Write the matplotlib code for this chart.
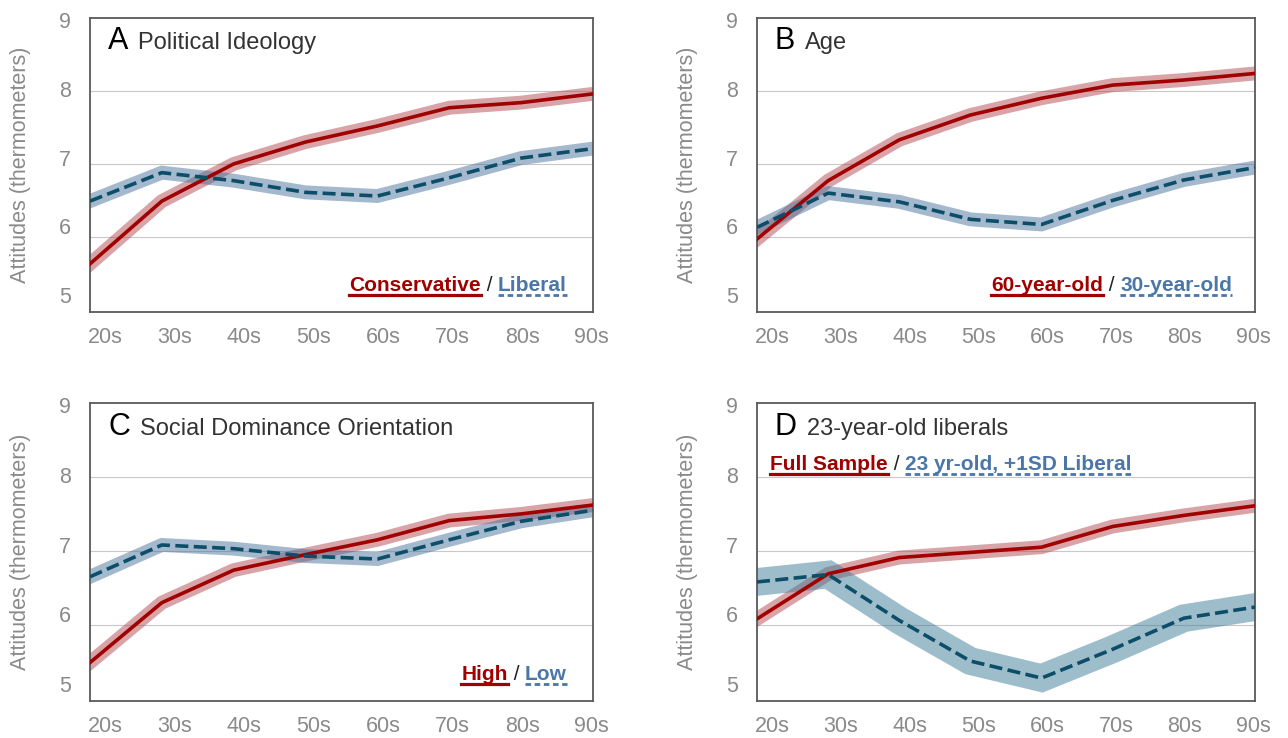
import numpy as np
import matplotlib
matplotlib.use('agg')
import matplotlib.pyplot as plt
from matplotlib.lines import Line2D

plt.rcParams['font.family'] = ['Liberation Sans', 'DejaVu Sans']

decades = ['20s', '30s', '40s', '50s', '60s', '70s', '80s', '90s']
ytick_labels = ['9', '8', '7', '6', '5']

# attitude means per decade
ideology_conservative = [5.63, 6.49, 7.00, 7.30, 7.52, 7.77, 7.84, 7.96]
ideology_liberal = [6.49, 6.88, 6.77, 6.61, 6.56, 6.81, 7.08, 7.21]
age_60 = [5.97, 6.77, 7.33, 7.67, 7.90, 8.08, 8.15, 8.24]
age_30 = [6.13, 6.60, 6.48, 6.24, 6.17, 6.50, 6.78, 6.95]
sdo_high = [5.49, 6.30, 6.74, 6.95, 7.15, 7.41, 7.50, 7.62]
sdo_low = [6.65, 7.08, 7.03, 6.93, 6.89, 7.15, 7.40, 7.55]
full_sample = [6.08, 6.69, 6.91, 6.98, 7.05, 7.33, 7.48, 7.61]
young_liberal = [6.58, 6.68, 6.06, 5.51, 5.28, 5.67, 6.09, 6.24]

RED = '#a00000'
RED_BAND = '#b34a52'
TEAL = '#0c4d68'
BLUE_BAND = '#4a749c'
BLUE_TXT = '#4a76a8'
GRAY = '#8a8a8a'

panels = [
    dict(letter='A', title='Political Ideology', red=ideology_conservative, blue=ideology_liberal,
         red_label='Conservative', blue_label='Liberal', rect=[90, 18, 503, 294],
         legend=(0.948, 0.071, 'right'), band_blue=10, band_blue_color=BLUE_BAND),
    dict(letter='B', title='Age', red=age_60, blue=age_30,
         red_label='60-year-old', blue_label='30-year-old', rect=[757, 18, 498, 294],
         legend=(0.954, 0.071, 'right'), band_blue=10, band_blue_color=BLUE_BAND),
    dict(letter='C', title='Social Dominance Orientation', red=sdo_high, blue=sdo_low,
         red_label='High', blue_label='Low', rect=[90, 403, 503, 298],
         legend=(0.948, 0.07, 'right'), band_blue=10, band_blue_color=BLUE_BAND),
    dict(letter='D', title='23-year-old liberals', red=full_sample, blue=young_liberal,
         red_label='Full Sample', blue_label='23 yr-old, +1SD Liberal', rect=[757, 403, 498, 298],
         legend=(0.026, 0.775, 'left'), band_blue=20, band_blue_color='#3f7d98'),
]

W, H = 1288, 738
fig = plt.figure(figsize=(W / 100, H / 100), dpi=100)

underlines = []
x = np.arange(len(decades))

for p in panels:
    l, t, w, h = p['rect']
    ax = fig.add_axes([l / W, (H - t - h) / H, w / W, h / H])
    ax.set_xlim(0, 7)
    ax.set_ylim(4.97, 9.0)

    for g in [6, 7, 8]:
        ax.axhline(g, color='#c8c8c8', lw=0.8, zorder=0.5)

    # confidence bands drawn as wide translucent strokes
    ax.plot(x, p['red'], color=RED_BAND, lw=10, alpha=0.5, solid_joinstyle='miter', zorder=1)
    ax.plot(x, p['blue'], color=p['band_blue_color'], lw=p['band_blue'], alpha=0.5,
            solid_joinstyle='miter', zorder=1)
    ax.plot(x, p['red'], color=RED, lw=2.6, zorder=3)
    ax.plot(x, p['blue'], color=TEAL, lw=2.6, dashes=(3.6, 1.5), zorder=3)

    ax.set_xticks(np.linspace(0.21, 6.98, 8))
    ax.set_xticklabels(decades)
    ax.set_yticks(np.linspace(8.97, 5.2, 5))
    ax.set_yticklabels(ytick_labels)
    ax.tick_params(axis='both', length=0, labelsize=15.5, labelcolor=GRAY)
    ax.tick_params(axis='x', pad=11)
    ax.tick_params(axis='y', pad=14)
    for s in ax.spines.values():
        s.set_color('#595959')
        s.set_linewidth(1.3)

    ax.set_ylabel('Attitudes (thermometers)', fontsize=15.5, color=GRAY)
    ax.yaxis.set_label_coords(-0.118, 0.5)

    letter = ax.text(0.036, 0.893, p['letter'], transform=ax.transAxes, fontsize=22,
                     color='black', va='baseline', ha='left')
    ax.annotate(p['title'], xy=(1, 0.893), xycoords=(letter, 'axes fraction'),
                xytext=(7, 0), textcoords='offset points', fontsize=17,
                color='#333333', va='baseline', ha='left')

    lx, ly, align = p['legend']
    if align == 'right':
        tb = ax.text(lx, ly, p['blue_label'], transform=ax.transAxes, fontsize=15,
                     fontweight='bold', color=BLUE_TXT, ha='right', va='baseline')
        sl = ax.annotate(' / ', xy=(0, ly), xycoords=(tb, 'axes fraction'), fontsize=15,
                         color='#222222', ha='right', va='baseline')
        tr = ax.annotate(p['red_label'], xy=(0, ly), xycoords=(sl, 'axes fraction'),
                         fontsize=15, fontweight='bold', color=RED, ha='right', va='baseline')
    else:
        tr = ax.text(lx, ly, p['red_label'], transform=ax.transAxes, fontsize=15,
                     fontweight='bold', color=RED, ha='left', va='baseline')
        sl = ax.annotate(' / ', xy=(1, ly), xycoords=(tr, 'axes fraction'), fontsize=15,
                         color='#222222', ha='left', va='baseline')
        tb = ax.annotate(p['blue_label'], xy=(1, ly), xycoords=(sl, 'axes fraction'),
                         fontsize=15, fontweight='bold', color=BLUE_TXT, ha='left', va='baseline')
    underlines.append((tr, RED, '-'))
    underlines.append((tb, BLUE_TXT, '--'))

fig.canvas.draw()
renderer = fig.canvas.get_renderer()
for txt, col, style in underlines:
    bb = txt.get_window_extent(renderer)
    y = (bb.y0 + 0.5) / H
    if style == '-':
        fig.add_artist(Line2D([bb.x0 / W, bb.x1 / W], [y, y], color=col, lw=2.3))
    else:
        fig.add_artist(Line2D([bb.x0 / W, bb.x1 / W], [y, y], color=col, lw=2.0,
                              dashes=(2.0, 1.3)))

fig.savefig('out.png', dpi=100)
